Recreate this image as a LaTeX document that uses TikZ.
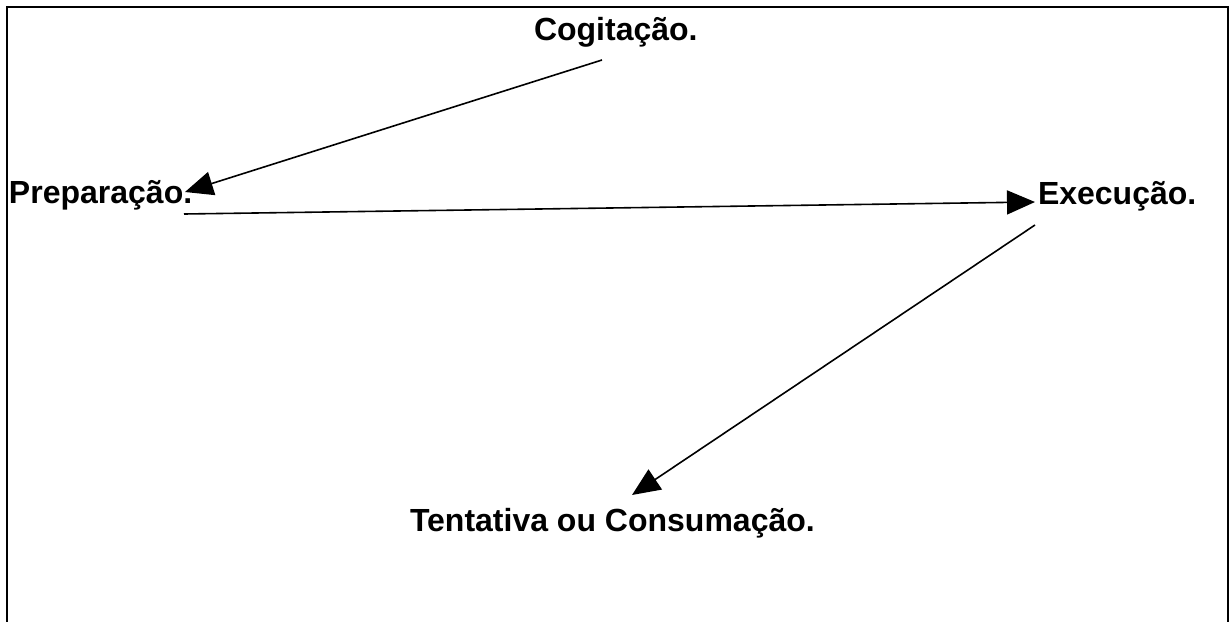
\documentclass[tikz,border=0pt]{standalone}
\usepackage{fontspec}
\setmainfont{Liberation Sans}
\usetikzlibrary{arrows.meta}
\begin{document}
\begin{tikzpicture}[x=1pt,y=-1pt,
  lbl/.style={inner sep=0pt, outer sep=0pt, anchor=base west, font=\fontsize{32}{36}\selectfont\bfseries},
  conn/.style={line width=1.6pt, -{Triangle[length=28pt,width=24pt]}},
  frame/.style={line width=2.2pt}]
\useasboundingbox (0,0) rectangle (1231,621);
\fill[white] (0,0) rectangle (1231,621);
\draw[frame] (7,625) -- (7,7) -- (1228,7) -- (1228,625);
\node[lbl] (cog) at (534,40) {Cogitação.};
\node[lbl] (prep) at (9,203) {Preparação.};
\node[lbl] (exe) at (1038,204) {Execução.};
\node[lbl] (tent) at (410,531) {Tentativa ou Consumação.};
\coordinate (c1s) at ([shift={(68,20)}]cog.base west);
\coordinate (c1e) at ([shift={(176,-11)}]prep.base west);
\coordinate (c2s) at ([shift={(175,11)}]prep.base west);
\coordinate (c2e) at ([shift={(-3,-2)}]exe.base west);
\coordinate (c3s) at ([shift={(-3,21)}]exe.base west);
\coordinate (c3e) at ([shift={(222,-36)}]tent.base west);
\draw[conn] (c1s) -- (c1e);
\draw[conn] (c2s) -- (c2e);
\draw[conn] (c3s) -- (c3e);
\end{tikzpicture}
\end{document}
